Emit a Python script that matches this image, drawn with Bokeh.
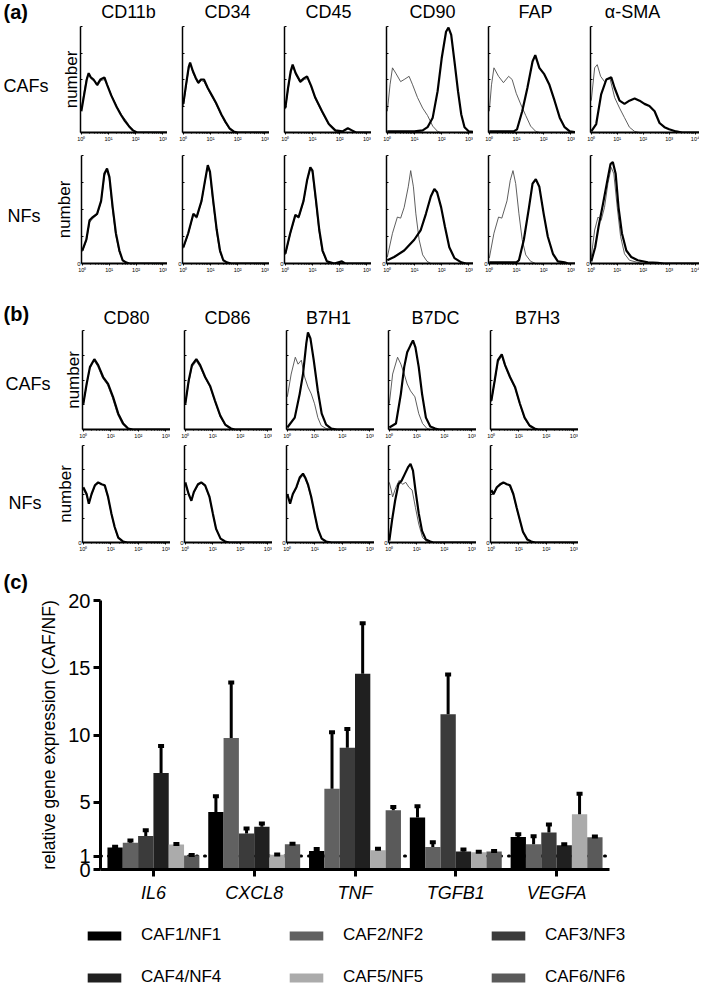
import math
from bokeh.plotting import figure
from bokeh.layouts import row, column
from bokeh.models import (Range1d, FactorRange, FixedTicker, Label, Legend,
                          LegendItem, Span, ColumnDataSource, Title)
from bokeh.transform import dodge
from bokeh.embed import file_html
from bokeh.resources import INLINE

FONT = "Liberation Sans"

# ------------------------------------------------------------------ data
# flow-cytometry histograms: (log10 fluorescence, % of panel height)
# (a) CAFs
a1_cd11b_iso = [(0,22),(0.1,38),(0.2,52),(0.28,55),(0.38,50),(0.5,48),(0.6,44),(0.72,49),(0.85,50),(1.0,42),(1.15,33),(1.3,25),(1.5,16),(1.65,11),(1.8,5),(1.95,1),(2.05,0),(3.3,0)]
a1_cd11b_pos = [(0,20),(0.1,35),(0.2,50),(0.27,56),(0.35,52),(0.45,50),(0.58,45),(0.7,50),(0.85,52),(0.95,45),(1.1,35),(1.3,24),(1.45,17),(1.6,11),(1.75,6),(1.9,2),(2.05,0),(3.3,0)]
a1_cd34_iso = [(0,25),(0.1,43),(0.2,60),(0.26,64),(0.36,56),(0.46,50),(0.56,46),(0.66,49),(0.76,48),(0.9,41),(1.05,34),(1.2,27),(1.4,16),(1.55,9),(1.7,3),(1.85,1),(2.0,0),(3.3,0)]
a1_cd34_pos = [(0,27),(0.1,45),(0.2,62),(0.25,66),(0.35,58),(0.45,52),(0.55,47),(0.65,50),(0.76,50),(0.9,42),(1.05,35),(1.2,28),(1.4,17),(1.55,10),(1.7,4),(1.85,1),(2.0,0),(3.3,0)]
a1_cd45_iso = [(0,22),(0.1,40),(0.2,56),(0.28,62),(0.4,54),(0.55,47),(0.7,50),(0.82,51),(0.95,43),(1.1,32),(1.35,19),(1.6,7),(1.84,1),(2.0,0),(3.3,0)]
a1_cd45_pos = [(0,23),(0.1,42),(0.2,58),(0.27,64),(0.38,56),(0.55,48),(0.68,51),(0.8,53),(0.95,44),(1.1,33),(1.35,20),(1.6,8),(1.84,2),(2.1,1),(2.3,4),(2.45,2),(2.6,0),(3.3,0)]
a1_cd90_iso = [(0,20),(0.1,45),(0.19,61),(0.31,56),(0.49,48),(0.62,50),(0.8,53),(0.93,45),(1.11,33),(1.3,23),(1.48,16),(1.67,6),(1.85,1),(1.95,0),(3.3,0)]
a1_cd90_pos = [(0,1),(0.5,1),(1.0,1),(1.3,2),(1.48,5),(1.67,14),(1.85,39),(2.0,70),(2.16,95),(2.25,99),(2.35,92),(2.47,67),(2.6,39),(2.72,17),(2.84,5),(3.0,1),(3.3,0)]
a1_fap_iso = [(0,20),(0.08,45),(0.17,61),(0.34,53),(0.52,47),(0.71,53),(0.84,50),(0.99,37),(1.15,27),(1.34,16),(1.52,6),(1.71,1),(1.85,0),(3.3,0)]
a1_fap_pos = [(0,1),(0.5,1),(0.9,1),(1.02,3),(1.21,20),(1.4,42),(1.59,67),(1.69,73),(1.84,61),(2.02,55),(2.21,45),(2.4,30),(2.59,14),(2.77,5),(2.96,1),(3.3,0)]
a1_sma_iso = [(0,30),(0.13,61),(0.23,64),(0.36,53),(0.51,48),(0.71,52),(0.9,33),(1.09,23),(1.28,14),(1.47,5),(1.67,1),(1.85,0),(4.3,0)]
a1_sma_pos = [(0,1),(0.19,8),(0.38,36),(0.58,50),(0.77,52),(0.9,42),(1.09,30),(1.28,27),(1.47,30),(1.67,32),(1.86,30),(2.05,27),(2.24,25),(2.44,20),(2.63,9),(2.82,5),(3.0,3),(3.27,1),(3.5,0),(4.3,0)]
# (a) NFs
a2_cd11b_iso = [(0,11),(0.15,21),(0.27,38),(0.4,42),(0.55,45),(0.7,57),(0.82,81),(0.91,86),(1.0,79),(1.12,51),(1.24,27),(1.37,11),(1.5,3),(1.62,1),(1.75,0),(3.3,0)]
a2_cd11b_pos = [(0,12),(0.15,22),(0.27,40),(0.39,43),(0.55,46),(0.7,58),(0.82,83),(0.92,88),(1.01,80),(1.13,52),(1.25,28),(1.38,12),(1.5,3),(1.62,1),(1.75,0),(3.3,0)]
a2_cd34_iso = [(0,14),(0.18,27),(0.37,45),(0.49,42),(0.67,57),(0.8,76),(0.89,89),(0.97,84),(1.09,57),(1.22,30),(1.34,11),(1.46,3),(1.6,1),(1.75,0),(3.3,0)]
a2_cd34_pos = [(0,15),(0.18,28),(0.37,46),(0.49,43),(0.67,58),(0.8,77),(0.9,91),(0.98,85),(1.1,58),(1.23,31),(1.35,12),(1.47,3),(1.6,1),(1.75,0),(3.3,0)]
a2_cd45_iso = [(0,8),(0.18,27),(0.37,44),(0.49,42),(0.67,57),(0.8,76),(0.91,87),(0.99,85),(1.12,57),(1.24,30),(1.36,11),(1.52,2),(1.7,0),(3.3,0)]
a2_cd45_pos = [(0,9),(0.18,28),(0.37,45),(0.49,43),(0.67,58),(0.8,77),(0.92,89),(1.0,86),(1.13,58),(1.25,31),(1.37,12),(1.53,2),(1.8,0),(2.08,2),(2.2,0),(3.3,0)]
a2_cd90_iso = [(0,6),(0.19,28),(0.37,43),(0.49,42),(0.62,52),(0.77,71),(0.86,86),(0.96,71),(1.05,46),(1.17,22),(1.3,8),(1.46,2),(1.6,0),(3.3,0)]
a2_cd90_pos = [(0,3),(0.25,6),(0.62,12),(0.99,22),(1.23,31),(1.42,46),(1.6,62),(1.73,69),(1.83,66),(1.98,52),(2.12,34),(2.28,15),(2.47,5),(2.72,1),(2.9,0),(3.3,0)]
a2_fap_iso = [(0,5),(0.17,28),(0.34,43),(0.46,42),(0.65,58),(0.77,77),(0.87,86),(0.97,74),(1.09,46),(1.21,22),(1.34,8),(1.52,2),(1.7,0),(3.3,0)]
a2_fap_pos = [(0,1),(0.6,1),(1.0,1),(1.09,3),(1.27,22),(1.46,52),(1.59,74),(1.71,78),(1.84,71),(2.0,46),(2.15,25),(2.34,9),(2.52,2),(2.77,1),(2.9,0),(3.3,0)]
a2_sma_iso = [(0,6),(0.13,31),(0.26,43),(0.38,40),(0.51,52),(0.64,74),(0.77,89),(0.87,83),(1.0,52),(1.13,25),(1.28,9),(1.47,3),(1.79,1),(2.0,0),(4.3,0)]
a2_sma_pos = [(0,2),(0.15,15),(0.28,34),(0.45,55),(0.62,77),(0.74,92),(0.83,94),(0.94,83),(1.05,52),(1.18,28),(1.35,12),(1.54,6),(1.79,3),(2.18,1),(2.56,0.5),(2.8,0),(4.3,0)]
# (b) CAFs
b1_cd80_iso = [(0,25),(0.12,45),(0.24,62),(0.38,70),(0.52,64),(0.7,52),(0.88,45),(1.06,32),(1.25,15),(1.43,5),(1.6,1),(1.8,0),(3.3,0)]
b1_cd80_pos = [(0,26),(0.12,46),(0.24,63),(0.4,71),(0.54,65),(0.72,53),(0.9,46),(1.08,33),(1.27,16),(1.45,6),(1.63,1),(1.8,0),(3.3,0)]
b1_cd86_iso = [(0,25),(0.12,47),(0.24,63),(0.4,69),(0.54,63),(0.72,52),(0.9,43),(1.08,28),(1.27,13),(1.45,4),(1.66,1),(1.8,0),(3.3,0)]
b1_cd86_pos = [(0,26),(0.12,49),(0.24,65),(0.4,71),(0.54,65),(0.72,53),(0.9,44),(1.08,29),(1.27,14),(1.45,5),(1.66,1),(1.8,0),(3.3,0)]
b1_b7h1_iso = [(0,33),(0.14,56),(0.29,73),(0.39,66),(0.51,70),(0.63,53),(0.75,43),(0.87,36),(0.99,26),(1.11,12),(1.23,4),(1.41,1),(1.6,0),(3.3,0)]
b1_b7h1_pos = [(0,2),(0.27,12),(0.45,36),(0.57,56),(0.69,87),(0.75,98),(0.84,92),(0.96,70),(1.11,39),(1.25,16),(1.41,5),(1.6,1),(1.8,0),(3.3,0)]
b1_b7dc_iso = [(0,26),(0.12,56),(0.3,73),(0.42,66),(0.54,56),(0.65,46),(0.77,39),(0.93,33),(1.07,16),(1.21,6),(1.37,1),(1.5,0),(3.3,0)]
b1_b7dc_pos = [(0,2),(0.24,6),(0.42,36),(0.54,63),(0.65,78),(0.77,85),(0.86,90),(0.95,83),(1.07,63),(1.19,36),(1.33,12),(1.49,3),(1.67,1),(1.8,0),(3.3,0)]
b1_b7h3_iso = [(0,28),(0.12,48),(0.24,68),(0.38,74),(0.5,64),(0.68,52),(0.86,42),(1.04,25),(1.21,11),(1.39,3),(1.57,1),(1.7,0),(3.3,0)]
b1_b7h3_pos = [(0,29),(0.12,49),(0.24,70),(0.38,76),(0.5,65),(0.68,53),(0.86,43),(1.04,26),(1.21,12),(1.39,4),(1.57,1),(1.7,0),(3.3,0)]
# (b) NFs
b2_cd80_iso = [(0,55),(0.12,48),(0.2,41),(0.3,49),(0.42,58),(0.54,61),(0.66,61),(0.78,57),(0.9,46),(1.02,29),(1.14,15),(1.27,4),(1.45,1),(1.6,0),(3.3,0)]
b2_cd80_pos = [(0,57),(0.12,50),(0.2,40),(0.3,50),(0.42,59),(0.54,62),(0.66,60),(0.78,59),(0.9,47),(1.02,30),(1.14,16),(1.27,5),(1.45,1),(1.6,0),(3.3,0)]
b2_cd86_iso = [(0,60),(0.12,49),(0.22,44),(0.31,51),(0.46,59),(0.58,61),(0.72,58),(0.88,46),(1.0,29),(1.12,13),(1.28,4),(1.45,1),(1.6,0),(3.3,0)]
b2_cd86_pos = [(0,62),(0.12,50),(0.22,43),(0.31,52),(0.46,60),(0.58,62),(0.72,59),(0.88,47),(1.0,30),(1.12,14),(1.28,4),(1.45,1),(1.6,0),(3.3,0)]
b2_b7h1_iso = [(0,48),(0.1,41),(0.2,49),(0.33,56),(0.45,65),(0.55,69),(0.65,66),(0.75,58),(0.87,46),(0.99,29),(1.11,13),(1.25,4),(1.41,1),(1.6,0),(3.3,0)]
b2_b7h1_pos = [(0,50),(0.1,40),(0.2,50),(0.33,57),(0.45,67),(0.57,71),(0.65,67),(0.75,60),(0.87,47),(0.99,30),(1.11,14),(1.25,4),(1.41,1),(1.6,0),(3.3,0)]
b2_b7dc_iso = [(0,62),(0.06,55),(0.12,47),(0.24,57),(0.36,64),(0.48,60),(0.6,62),(0.71,57),(0.83,54),(0.95,36),(1.07,19),(1.21,5),(1.37,1),(1.5,0),(3.3,0)]
b2_b7dc_pos = [(0,2),(0.1,23),(0.21,43),(0.33,60),(0.45,64),(0.57,71),(0.69,78),(0.77,81),(0.86,74),(0.95,54),(1.07,30),(1.19,12),(1.33,3),(1.49,1),(1.6,0),(3.3,0)]
b2_b7h3_iso = [(0,52),(0.08,49),(0.2,56),(0.32,59),(0.44,61),(0.56,61),(0.68,57),(0.8,49),(0.92,35),(1.04,22),(1.15,10),(1.31,3),(1.45,1),(1.6,0),(3.3,0)]
b2_b7h3_pos = [(0,54),(0.08,50),(0.2,57),(0.32,60),(0.44,62),(0.56,60),(0.68,59),(0.8,50),(0.92,36),(1.04,23),(1.15,11),(1.31,3),(1.45,1),(1.6,0),(3.3,0)]

A_MARKERS = ["CD11b", "CD34", "CD45", "CD90", "FAP", "α-SMA"]
A_DECADES = [3, 3, 3, 3, 3, 4]
A1 = [(a1_cd11b_iso, a1_cd11b_pos), (a1_cd34_iso, a1_cd34_pos), (a1_cd45_iso, a1_cd45_pos),
      (a1_cd90_iso, a1_cd90_pos), (a1_fap_iso, a1_fap_pos), (a1_sma_iso, a1_sma_pos)]
A2 = [(a2_cd11b_iso, a2_cd11b_pos), (a2_cd34_iso, a2_cd34_pos), (a2_cd45_iso, a2_cd45_pos),
      (a2_cd90_iso, a2_cd90_pos), (a2_fap_iso, a2_fap_pos), (a2_sma_iso, a2_sma_pos)]
B_MARKERS = ["CD80", "CD86", "B7H1", "B7DC", "B7H3"]
B_DECADES = [3, 3, 3, 3, 3]
B1 = [(b1_cd80_iso, b1_cd80_pos), (b1_cd86_iso, b1_cd86_pos), (b1_b7h1_iso, b1_b7h1_pos),
      (b1_b7dc_iso, b1_b7dc_pos), (b1_b7h3_iso, b1_b7h3_pos)]
B2 = [(b2_cd80_iso, b2_cd80_pos), (b2_cd86_iso, b2_cd86_pos), (b2_b7h1_iso, b2_b7h1_pos),
      (b2_b7dc_iso, b2_b7dc_pos), (b2_b7h3_iso, b2_b7h3_pos)]

# (c) relative gene expression: mean and top of error bar
genes = ["IL6", "CXCL8", "TNF", "TGFB1", "VEGFA"]
caf_labels = ["CAF1/NF1", "CAF2/NF2", "CAF3/NF3", "CAF4/NF4", "CAF5/NF5", "CAF6/NF6"]
caf1 = [1.63, 4.28, 1.38, 3.86, 2.42]
caf1_up = [1.70, 5.45, 1.53, 4.70, 2.62]
caf2 = [1.98, 9.78, 6.00, 1.68, 1.88]
caf2_up = [2.15, 13.9, 10.2, 2.03, 2.47]
caf3 = [2.50, 2.67, 9.05, 11.54, 2.75]
caf3_up = [2.92, 3.05, 10.45, 14.5, 3.34]
caf4 = [7.18, 3.17, 14.55, 1.34, 1.80]
caf4_up = [9.18, 3.42, 18.3, 1.49, 1.88]
caf5 = [1.85, 1.09, 1.43, 1.29, 4.10]
caf5_up = [1.90, 1.12, 1.55, 1.32, 5.64]
caf6 = [1.04, 1.88, 4.40, 1.34, 2.40]
caf6_up = [1.08, 1.92, 4.65, 1.37, 2.45]
caf_colors = ["#000000", "#616161", "#3b3b3b", "#202020", "#ababab", "#5a5a5a"]
y_ticks = [0, 1, 5, 10, 15, 20]

SUP = {0: "\u2070", 1: "\u00b9", 2: "\u00b2", 3: "\u00b3", 4: "\u2074"}


# ------------------------------------------------------------------ helpers
def add_text(p, x, y, text, size, style="normal", align="left", angle=0.0):
    p.add_layout(Label(x=x, y=y, x_units="screen", y_units="screen", text=text,
                       text_font=FONT, text_font_size=size, text_font_style=style,
                       text_align=align, text_baseline="middle", angle=angle,
                       text_color="black"))


def blank(width, height, top=0, bottom=0, x_range=None, y_range=None):
    p = figure(width=width, height=height,
               x_range=x_range if x_range is not None else Range1d(0, width),
               y_range=y_range if y_range is not None else Range1d(0, height),
               x_axis_location=None, y_axis_location=None, min_border_left=0,
               min_border_right=0, min_border_top=top, min_border_bottom=bottom,
               toolbar_location=None, output_backend="svg", title=None)
    p.outline_line_color = None
    p.xgrid.visible = False
    p.ygrid.visible = False
    return p


def make_hist(curves, left, fw, top, fh, bottom, decades, zero, number):
    iso, pos = curves
    xmax_log = decades + 0.17
    p = figure(width=left + fw, height=top + fh + bottom, x_axis_type="log",
               x_range=Range1d(10 ** -0.03, 10 ** xmax_log), y_range=Range1d(0, 100),
               min_border_left=left, min_border_right=0, min_border_top=top,
               min_border_bottom=bottom, toolbar_location=None, output_backend="svg",
               title=None)
    p.outline_line_color = None
    p.xgrid.visible = False
    p.ygrid.visible = False
    majors = [10 ** k for k in range(decades + 1)]
    minors = [m * 10 ** k for k in range(decades + 1) for m in range(2, 10)
              if m * 10 ** k < 10 ** xmax_log]
    xa = p.xaxis[0]
    xa.ticker = FixedTicker(ticks=majors, minor_ticks=minors)
    xa.major_label_overrides = {10 ** k: "10" + SUP[k] for k in range(decades + 1)}
    xa.axis_line_width = 2
    xa.major_tick_in = 0
    xa.major_tick_out = 2
    xa.minor_tick_in = 0
    xa.minor_tick_out = 1
    xa.major_label_standoff = 1
    xa.major_label_text_font = FONT
    xa.major_label_text_font_size = "5.5px"
    xa.major_label_text_color = "black"
    ya = p.yaxis[0]
    ya.ticker = FixedTicker(ticks=[0, 25, 50, 75, 100])
    ya.major_label_overrides = {0: "0" if zero else "", 25: "", 50: "", 75: "", 100: ""}
    ya.axis_line_width = 1.5
    ya.major_tick_in = 2
    ya.major_tick_out = 0
    ya.minor_tick_line_color = None
    ya.major_label_standoff = 1
    ya.major_label_text_font = FONT
    ya.major_label_text_font_size = "6px"
    ya.major_label_text_color = "black"
    if number:
        ya.axis_label = "number"
        ya.axis_label_text_font = FONT
        ya.axis_label_text_font_size = "17px"
        ya.axis_label_text_font_style = "normal"
        ya.axis_label_text_color = "black"
        ya.axis_label_standoff = 0
    p.line([10 ** a for a, _ in iso], [b for _, b in iso], line_color="#4d4d4d", line_width=0.9)
    p.line([10 ** a for a, _ in pos], [b for _, b in pos], line_color="black", line_width=2.2)
    return p


def hist_row(curves_list, decades_list, lbl_w, first_left, left, fw, top, fh, bottom,
             zero, row_label, label_x, label_y):
    lbl = blank(lbl_w, top + fh + bottom, top=top, bottom=bottom)
    add_text(lbl, label_x, label_y, row_label, "18px")
    figs = [lbl]
    for i, curves in enumerate(curves_list):
        lb = first_left if i == 0 else left
        w = fw + (decades_list[i] - 3) * 22
        figs.append(make_hist(curves, lb, w, top, fh, bottom, decades_list[i], zero, i == 0))
    return row(*figs, spacing=0)


def title_strip(width, height, tag, tag_y, markers, centers, title_y):
    s = blank(width, height)
    add_text(s, 3, tag_y, tag, "20px", style="bold")
    for m, cx in zip(markers, centers):
        add_text(s, cx, title_y, m, "18px", align="center")
    return row(s, spacing=0)


# ------------------------------------------------------------------ panel (a)
stripA = title_strip(708, 25, "(a)", 13.5, A_MARKERS, [128, 227, 328, 432, 535, 632], 14)
rowA1 = hist_row(A1, A_DECADES, 52, 28, 15, 87, 1, 106, 16, False, "CAFs", 3, 47)
rowA2 = hist_row(A2, A_DECADES, 52, 28, 15, 87, 7, 108, 15, True, "NFs", 7, 48)
# ------------------------------------------------------------------ panel (b)
stripB = title_strip(708, 51, "(b)", 15.5, B_MARKERS, [126, 227, 328, 435, 537], 12)
rowB1 = hist_row(B1, B_DECADES, 52, 30, 14, 88, 1, 99, 15, False, "CAFs", 5, 46)
rowB2 = hist_row(B2, B_DECADES, 52, 30, 14, 88, 1, 97, 16, True, "NFs", 8, 40)

# ------------------------------------------------------------------ panel (c)
pc = figure(x_range=FactorRange(factors=genes, range_padding=0.01), y_range=Range1d(0, 20),
            width=708, height=351, min_border_left=100, min_border_right=99,
            min_border_top=42, min_border_bottom=40, toolbar_location=None,
            output_backend="svg", title=None)
pc.add_layout(Title(text="(c)", align="left", offset=-97, standoff=15, text_font=FONT,
                    text_font_size="20px", text_font_style="bold", text_color="black"),
              "above")
pc.outline_line_color = None
pc.xgrid.visible = False
pc.ygrid.visible = False

series = [caf1, caf2, caf3, caf4, caf5, caf6]
uppers = [caf1_up, caf2_up, caf3_up, caf4_up, caf5_up, caf6_up]
data = {"gene": genes}
for i in range(6):
    data[f"v{i}"] = series[i]
    data[f"u{i}"] = uppers[i]
src = ColumnDataSource(data)

pc.add_layout(Span(location=1, dimension="width", line_color="black", line_width=3,
                   line_dash="1 7", line_cap="round", level="underlay"))

BAR_W = 0.152
for i in range(6):
    off = (i - 2.5) * BAR_W
    pc.vbar(x=dodge("gene", off, range=pc.x_range), top=f"v{i}", bottom=0, width=BAR_W,
            source=src, fill_color=caf_colors[i], line_color=None)
for i in range(6):
    off = (i - 2.5) * BAR_W
    xd = dodge("gene", off, range=pc.x_range)
    pc.segment(x0=xd, y0=f"v{i}", x1=xd, y1=f"u{i}", source=src, line_color="black",
               line_width=3)
    pc.rect(x=xd, y=f"u{i}", width=6, height=4, width_units="screen", height_units="screen",
            source=src, fill_color="black", line_color=None)

ya = pc.yaxis[0]
ya.ticker = FixedTicker(ticks=y_ticks)
ya.axis_label = "relative gene expression (CAF/NF)"
ya.axis_label_text_font = FONT
ya.axis_label_text_font_size = "17.5px"
ya.axis_label_text_font_style = "normal"
ya.axis_label_text_color = "black"
ya.axis_label_standoff = 6
ya.major_label_text_font = FONT
ya.major_label_text_font_size = "20px"
ya.major_label_text_color = "black"
ya.major_label_standoff = 3
ya.axis_line_width = 3
ya.major_tick_line_width = 3
ya.major_tick_in = 0
ya.major_tick_out = 7
ya.minor_tick_line_color = None

xa = pc.xaxis[0]
xa.major_label_text_font = FONT
xa.major_label_text_font_size = "18px"
xa.major_label_text_font_style = "italic"
xa.major_label_text_color = "black"
xa.major_label_standoff = 6
xa.axis_line_width = 3
xa.major_tick_line_width = 3
xa.major_tick_in = 0
xa.major_tick_out = 7

# legend strip below panel (c): swatch renderers share the bar data but stay hidden
legf = blank(708, 78, x_range=FactorRange(factors=genes), y_range=Range1d(0, 20))
leg_rs = []
for i in range(6):
    r = legf.vbar(x="gene", top=f"v{i}", bottom=0, width=BAR_W, source=src,
                  fill_color=caf_colors[i], line_color=None)
    r.visible = False
    leg_rs.append(r)
legend = Legend(items=[LegendItem(label=l, renderers=[r]) for l, r in zip(caf_labels, leg_rs)],
                location=(83, 0), orientation="horizontal", ncols=3,
                glyph_width=42, glyph_height=11, label_standoff=16, label_width=122,
                label_height=17, spacing=22, padding=0, margin=0,
                border_line_color=None, background_fill_alpha=0,
                inactive_fill_alpha=0,
                label_text_font=FONT, label_text_font_size="17px", label_text_color="black")
legf.add_layout(legend)

layout = column(stripA, rowA1, rowA2, stripB, rowB1, rowB2, row(pc, spacing=0),
                row(legf, spacing=0), spacing=0)
open("out.html", "w").write(file_html(layout, INLINE))
